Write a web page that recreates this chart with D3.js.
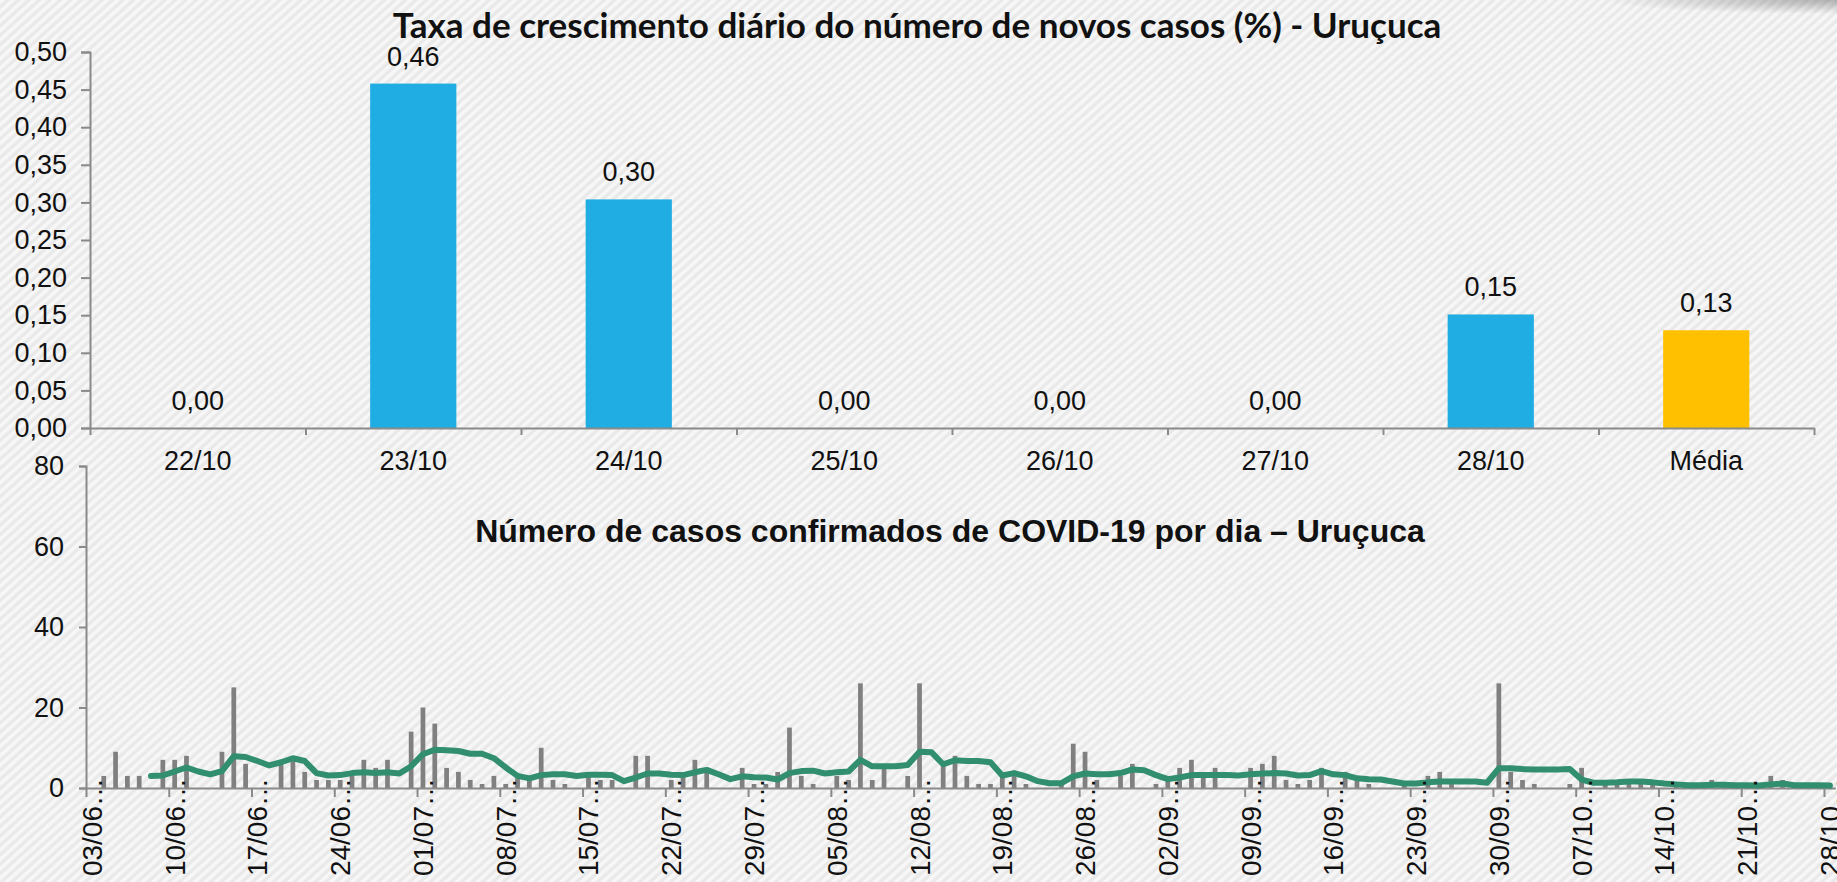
<!DOCTYPE html>
<html>
<head>
<meta charset="utf-8">
<script src="https://cdn.jsdelivr.net/npm/d3@7"></script>
<style>
  html, body { margin: 0; padding: 0; overflow: hidden; background: #ececec; }
  svg { display: block; }
  text { font-family: "Liberation Sans", Arial, sans-serif; fill: #111; }
</style>
</head>
<body>
<svg id="chart" width="1837" height="882"></svg>
<script>
// ---- Daily growth rate (%) of new cases ----
const growthCategories = ["22/10", "23/10", "24/10", "25/10", "26/10", "27/10", "28/10", "Média"];
const growthValues = [0, 0.458, 0.304, 0, 0, 0, 0.151, 0.130];
const growthColors = ["#1FADE3", "#1FADE3", "#1FADE3", "#1FADE3", "#1FADE3", "#1FADE3", "#1FADE3", "#FFC000"];
const growthTicks = [0, 0.05, 0.10, 0.15, 0.20, 0.25, 0.30, 0.35, 0.40, 0.45, 0.50];

// ---- Confirmed cases per day, from 03/06 to 28/10 ----
const firstDay = new Date(2020, 5, 3);
const casesDaily = [
  0, 3, 9, 3, 3, 0, 7,
  7, 8, 0, 0, 9, 25, 6,
  0, 0, 6, 7, 4, 2, 2,
  2, 3, 7, 5, 7, 0, 14,
  20, 16, 5, 4, 2, 1, 3,
  1, 3, 2, 10, 2, 1, 0,
  3, 2, 2, 0, 8, 8, 0,
  2, 3, 7, 4, 0, 0, 5,
  1, 1, 4, 15, 3, 1, 0,
  3, 2, 26, 2, 5, 0, 3,
  26, 0, 6, 8, 3, 1, 1,
  3, 4, 1, 0, 0, 1, 11,
  9, 2, 0, 3, 6, 0, 1,
  3, 5, 7, 3, 5, 0, 0,
  5, 6, 8, 2, 1, 2, 5,
  0, 4, 2, 1, 0, 0, 1,
  0, 3, 4, 1, 0, 0, 0,
  26, 4, 2, 1, 0, 0, 1,
  5, 0, 1, 1, 1, 1, 1,
  0, 1, 0, 0, 2, 1, 0,
  1, 0, 3, 2, 1, 0, 1,
  0
];
// 7-day moving average of the daily cases
const movingAvg = [
  null, null, null, null, null, 3.0, 3.1,
  4.1, 5.1, 4.1, 3.4, 4.2, 7.9, 7.7,
  6.7, 5.6, 6.4, 7.4, 6.7, 3.7, 3.1,
  3.2, 3.7, 3.9, 3.7, 3.9, 3.6, 5.4,
  8.4, 9.5, 9.4, 9.2, 8.5, 8.5, 7.4,
  5.1, 3.0, 2.4, 3.2, 3.4, 3.4, 3.0,
  3.3, 3.3, 3.2, 1.7, 2.6, 3.6, 3.6,
  3.3, 3.2, 3.9, 4.5, 3.4, 2.2, 2.9,
  2.7, 2.6, 2.1, 3.7, 4.2, 4.3, 3.6,
  3.9, 4.1, 7.0, 5.4, 5.4, 5.4, 5.7,
  9.0, 8.9, 5.9, 6.9, 6.7, 6.7, 6.4,
  3.1, 3.7, 2.9, 1.7, 1.2, 1.2, 2.9,
  3.6, 3.4, 3.4, 3.7, 4.6, 4.4, 3.2,
  2.2, 2.6, 3.2, 3.2, 3.2, 3.2, 3.1,
  3.4, 3.6, 3.7, 3.6, 3.1, 3.2, 4.2,
  3.4, 3.2, 2.4, 2.2, 2.1, 1.6, 1.1,
  1.1, 1.4, 1.6, 1.6, 1.6, 1.6, 1.3,
  4.9, 4.9, 4.7, 4.6, 4.6, 4.6, 4.7,
  2.1, 1.3, 1.3, 1.4, 1.6, 1.6, 1.4,
  1.1, 0.9, 0.7, 0.7, 0.8, 0.8, 0.7,
  0.7, 0.6, 0.9, 1.1, 0.7, 0.7, 0.7,
  0.6
];
const casesTicks = [0, 20, 40, 60, 80];
const dateLabelStep = 7;

const titleGrowth = "Taxa de crescimento diário do número de novos casos (%) - Uruçuca";
const titleCases = "Número de casos confirmados de COVID-19 por dia – Uruçuca";

// Portuguese number format: decimal comma
const ptBR = d3.formatLocale({ decimal: ",", thousands: ".", grouping: [3], currency: ["R$", ""] });
const fmt2 = ptBR.format(".2f");

const svg = d3.select("#chart");
const W = 1837, H = 882;
const axisColor = "#8a8a8a";
const tickFont = 27;

// ---- background: light diagonal hatching ----
const defs = svg.append("defs");
const pat = defs.append("pattern")
  .attr("id", "hatch").attr("patternUnits", "userSpaceOnUse")
  .attr("width", 7).attr("height", 7)
  .attr("patternTransform", "rotate(-42)");
pat.append("rect").attr("width", 7).attr("height", 7).attr("fill", "#e9e9e9");
pat.append("rect").attr("width", 7).attr("height", 3.6).attr("fill", "#f7f7f7");
svg.append("rect").attr("width", W).attr("height", H).attr("fill", "url(#hatch)");

const shade = defs.append("radialGradient").attr("id", "cornerShade")
  .attr("cx", 1).attr("cy", 0).attr("r", 1);
shade.append("stop").attr("offset", 0).attr("stop-color", "#7a7a7a").attr("stop-opacity", 0.55);
shade.append("stop").attr("offset", 1).attr("stop-color", "#7a7a7a").attr("stop-opacity", 0);
svg.append("rect").attr("x", 1600).attr("y", 0).attr("width", 237).attr("height", 14)
  .attr("fill", "url(#cornerShade)");

// =============== Top chart: growth rate bars ===============
const topX0 = 90, topX1 = 1814, topY0 = 428, topY1 = 52;
const xT = d3.scaleBand().domain(growthCategories).range([topX0, topX1])
  .paddingInner(0.6).paddingOuter(0.3);
const yT = d3.scaleLinear().domain([0, 0.5]).range([topY0, topY1]);
const xTEdges = d3.scaleLinear().domain([0, growthCategories.length]).range([topX0, topX1]);

const gTop = svg.append("g");

gTop.selectAll("rect.bar").data(growthValues).join("rect")
  .attr("class", "bar")
  .attr("x", (d, i) => xT(growthCategories[i]))
  .attr("width", xT.bandwidth())
  .attr("y", d => yT(d))
  .attr("height", d => yT(0) - yT(d))
  .attr("fill", (d, i) => growthColors[i]);

gTop.selectAll("text.val").data(growthValues).join("text")
  .attr("class", "val")
  .attr("x", (d, i) => xT(growthCategories[i]) + xT.bandwidth() / 2)
  .attr("y", d => yT(d) - 18)
  .attr("text-anchor", "middle")
  .attr("font-size", tickFont)
  .text(d => fmt2(d));

// y axis
const yAxisT = gTop.append("g").attr("transform", `translate(${topX0},0)`)
  .call(d3.axisLeft(yT).tickValues(growthTicks).tickSize(9).tickPadding(14)
    .tickFormat(d => fmt2(d)));
yAxisT.selectAll("text").attr("font-size", tickFont).attr("font-family", "Liberation Sans, Arial, sans-serif").attr("fill", "#111");

// x axis: edge ticks
gTop.append("g").attr("transform", `translate(0,${topY0})`)
  .call(d3.axisBottom(xTEdges).tickValues(d3.range(growthCategories.length + 1))
    .tickSize(7).tickSizeOuter(0).tickFormat(""));
// x axis: category labels
const xAxisT = gTop.append("g").attr("transform", `translate(0,${topY0})`)
  .call(d3.axisBottom(xT).tickSize(0).tickPadding(23));
xAxisT.select(".domain").remove();
xAxisT.selectAll("text").attr("font-size", tickFont).attr("font-family", "Liberation Sans, Arial, sans-serif").attr("fill", "#111");

gTop.selectAll(".domain, .tick line").attr("stroke", axisColor).attr("stroke-width", 2);

svg.append("text")
  .attr("x", 917).attr("y", 38)
  .attr("text-anchor", "middle")
  .style("font-family", "Lato, 'Open Sans', sans-serif")
  .attr("font-weight", 700)
  .attr("font-size", 35)
  .attr("fill", "#000")
  .text(titleGrowth);

// =============== Bottom chart: daily cases ===============
const days = d3.timeDay.range(firstDay, d3.timeDay.offset(firstDay, casesDaily.length));
const botX0 = 86, botStep = 11.823, botY0 = 788, botY1 = 466;
const botX1 = botX0 + botStep * days.length;
const xB = d3.scaleBand().domain(d3.range(days.length)).range([botX0, botX1])
  .paddingInner(0.6).paddingOuter(0.3);
const yB = d3.scaleLinear().domain([0, 80]).range([botY0, botY1]);
const xBEdges = d3.scaleLinear().domain([0, days.length]).range([botX0, botX1]);
const dayFmt = d3.timeFormat("%d/%m");

const gBot = svg.append("g");

gBot.selectAll("rect.case").data(casesDaily).join("rect")
  .attr("class", "case")
  .attr("x", (d, i) => xB(i))
  .attr("width", xB.bandwidth())
  .attr("y", d => yB(d))
  .attr("height", d => yB(0) - yB(d))
  .attr("fill", "#808080");

// y axis
const yAxisB = gBot.append("g").attr("transform", `translate(${botX0},0)`)
  .call(d3.axisLeft(yB).tickValues(casesTicks).tickSize(7).tickPadding(15));
yAxisB.selectAll("text").attr("font-size", tickFont).attr("font-family", "Liberation Sans, Arial, sans-serif").attr("fill", "#111");

// x axis: weekly edge ticks
const labelIdx = d3.range(0, days.length, dateLabelStep);
gBot.append("g").attr("transform", `translate(0,${botY0})`)
  .call(d3.axisBottom(xBEdges).tickValues(labelIdx).tickSize(9).tickFormat(""))
  .select(".domain").attr("d", `M${botX0},0.5H${botX1}`);

gBot.selectAll(".domain, .tick line").attr("stroke", axisColor).attr("stroke-width", 2);

// moving average line
const line = d3.line()
  .defined(d => d != null)
  .x((d, i) => xB(i) + xB.bandwidth() / 2)
  .y(d => yB(d));
gBot.append("path")
  .datum(movingAvg)
  .attr("d", line)
  .attr("fill", "none")
  .attr("stroke", "#318F70")
  .attr("stroke-width", 6)
  .attr("stroke-linejoin", "round")
  .attr("stroke-linecap", "round");

// rotated date labels (truncated with an ellipsis)
const xAxisB = gBot.append("g").attr("transform", `translate(0,${botY0})`)
  .call(d3.axisBottom(xB).tickValues(labelIdx).tickSize(0).tickPadding(0)
    .tickFormat(i => dayFmt(days[i]) + "…"));
xAxisB.select(".domain").remove();
xAxisB.selectAll("text")
  .attr("font-size", 28)
  .attr("font-family", "Liberation Sans, Arial, sans-serif")
  .attr("fill", "#111")
  .attr("text-anchor", "end")
  .attr("dy", null)
  .attr("y", 0)
  .attr("transform", "translate(10,-10) rotate(-90)");

svg.append("text")
  .attr("x", 950).attr("y", 542)
  .attr("text-anchor", "middle")
  .attr("font-weight", 700)
  .attr("font-size", 32)
  .attr("fill", "#000")
  .text(titleCases);
</script>
</body>
</html>
